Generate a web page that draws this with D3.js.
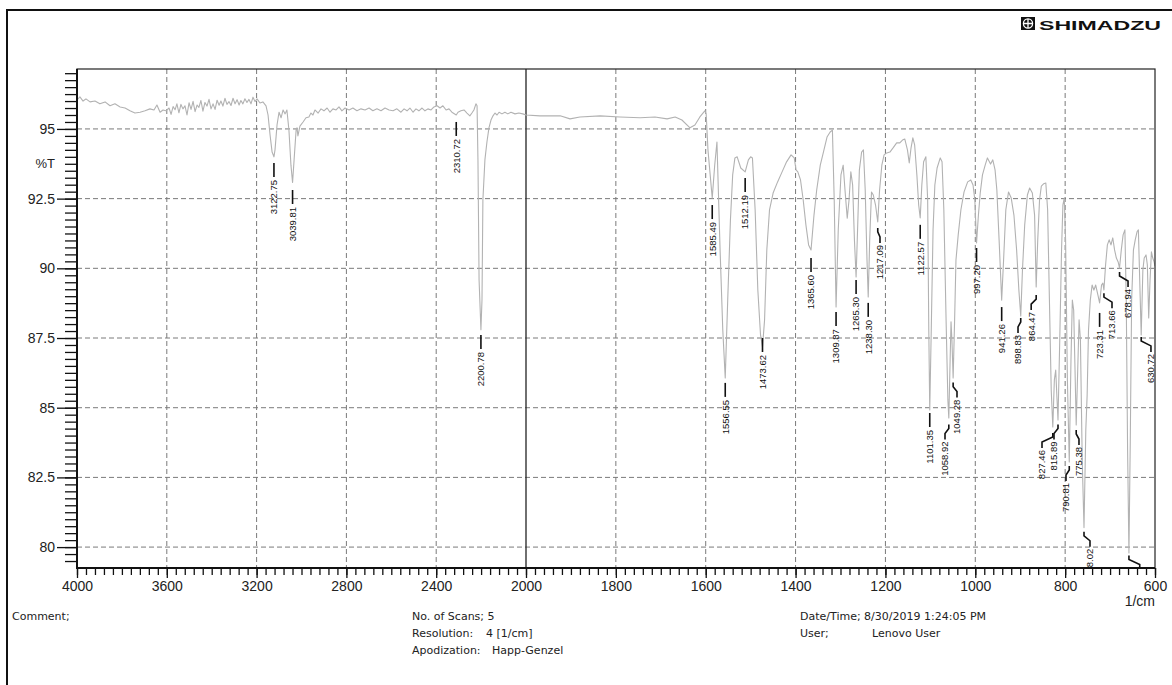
<!DOCTYPE html>
<html><head><meta charset="utf-8">
<script src="https://cdn.jsdelivr.net/npm/d3@7"></script>
<style>
body{margin:0;background:#fff}
svg{display:block}
text{font-family:"Liberation Sans",Arial,sans-serif}
</style>
</head><body>
<svg id="c" width="1172" height="685"></svg>
<script>
// ---------- DATA ----------
// IR spectrum: [wavenumber (1/cm), %T]
const spectrum = [
[4000,96.04],[3987,96.15],[3973,96.0],[3960,96.08],[3942,95.97],[3920,96.0],[3898,95.9],[3875,95.97],[3853,95.83],[3831,95.9],
[3808,95.79],[3786,95.75],[3764,95.65],[3742,95.57],[3719,95.6],[3697,95.65],[3675,95.72],[3657,95.68],[3644,95.86],[3630,95.6],
[3617,95.68],[3604,95.65],[3590,95.75],[3581,95.52],[3572,95.8],[3563,95.69],[3555,95.9],[3546,95.58],[3537,95.88],[3528,95.72],
[3519,95.83],[3510,95.5],[3501,95.94],[3492,95.7],[3483,95.99],[3474,95.62],[3465,95.86],[3457,95.77],[3448,96.02],[3439,95.64],
[3430,95.95],[3421,95.82],[3412,96.06],[3403,95.72],[3394,95.9],[3385,95.7],[3376,96.03],[3367,95.85],[3359,96.0],[3350,95.82],
[3341,96.1],[3332,95.88],[3323,95.98],[3314,95.84],[3305,96.1],[3296,95.9],[3287,96.05],[3278,95.86],[3270,96.02],[3261,95.9],
[3252,96.08],[3243,95.95],[3234,96.06],[3225,95.9],[3216,96.14],[3207,95.98],[3198,96.08],[3185,95.93],[3172,95.97],[3158,95.83],
[3149,95.5],[3140,94.78],[3131,94.17],[3122.75,94.0],[3118,94.25],[3109,95.14],[3100,95.6],[3091,95.4],[3082,95.68],[3073,95.54],
[3065,95.68],[3056,94.96],[3047,93.7],[3039.81,93.08],[3033,93.89],[3024,94.96],[3020,95.04],[3016,94.75],[3007,95.1],[2993,95.25],
[2980,95.4],[2967,95.43],[2958,95.57],[2949,95.5],[2940,95.68],[2926,95.57],[2913,95.72],[2900,95.65],[2886,95.75],[2873,95.6],
[2860,95.72],[2846,95.68],[2833,95.79],[2820,95.65],[2806,95.75],[2788,95.68],[2771,95.75],[2753,95.65],[2735,95.72],[2717,95.68],
[2699,95.75],[2682,95.65],[2664,95.72],[2646,95.65],[2628,95.75],[2610,95.68],[2592,95.65],[2575,95.72],[2557,95.6],[2543,95.72],
[2530,95.65],[2517,95.75],[2503,95.6],[2490,95.72],[2477,95.65],[2463,95.75],[2450,95.65],[2437,95.72],[2423,95.68],[2410,95.79],
[2396,95.83],[2383,95.75],[2370,95.83],[2356,95.68],[2343,95.72],[2330,95.6],[2310.72,95.5],[2303,95.6],[2290,95.65],[2276,95.68],
[2263,95.57],[2250,95.47],[2241,95.57],[2232,95.68],[2223,95.9],[2218,95.83],[2214,93.89],[2209,89.58],[2200.78,87.8],[2196,88.87],
[2192,92.45],[2183,93.89],[2174,94.53],[2165,95.04],[2156,95.32],[2147,95.47],[2138,95.57],[2129,95.5],[2120,95.6],[2107,95.54],
[2094,95.6],[2081,95.54],[2067,95.6],[2049,95.54],[2032,95.57],[2014,95.54],[2000,95.5],
[1969,95.47],[1924,95.47],[1902,95.36],[1880,95.43],[1835,95.47],[1791,95.43],[1746,95.4],[1713,95.43],[1686,95.36],[1668,95.43],
[1653,95.32],[1635,95.04],[1624,95.14],[1613,95.43],[1602,95.65],[1599,95.54],[1595,94.25],[1585.49,92.52],[1580,93.7],[1575,94.53],
[1568,90.66],[1562,87.79],[1556.55,86.07],[1551,88.87],[1545,91.73],[1540,93.35],[1535,93.96],[1530,94.0],[1522,93.6],[1512.19,93.46],
[1505,93.89],[1500,94.0],[1496,93.96],[1490,92.1],[1484,89.22],[1478,87.61],[1473.62,87.18],[1469,88.15],[1464,90.66],[1458,92.1],
[1450,92.7],[1440,93.1],[1430,93.46],[1420,93.82],[1410,94.07],[1403,93.96],[1399,93.53],[1395,93.46],[1389,93.17],[1383,92.45],
[1377,91.56],[1371,90.84],[1365.6,90.66],[1359,91.91],[1353,92.81],[1345,93.7],[1338,94.17],[1330,94.71],[1323,94.89],[1318,94.96],
[1314,92.45],[1309.87,88.61],[1305,91.38],[1299,93.35],[1294,93.7],[1290,92.81],[1285,91.8],[1281,92.45],[1277,93.46],[1273,92.99],
[1269,91.02],[1265.3,89.69],[1262,91.38],[1258,93.53],[1253,94.17],[1249,94.25],[1245,92.81],[1241,90.3],[1238.3,88.97],[1235,91.02],
[1231,92.74],[1227,92.63],[1222,92.27],[1217.09,91.66],[1213,92.81],[1208,93.7],[1203,94.07],[1197,94.14],[1190,94.17],[1183,94.32],
[1175,94.5],[1168,94.5],[1162,94.6],[1157,94.64],[1151,94.25],[1147,93.78],[1143,94.32],[1139,94.68],[1135,94.43],[1130,93.35],
[1126,92.27],[1122.57,91.81],[1119,92.99],[1115,93.82],[1110,94.0],[1106,92.45],[1103.5,87.79],[1101.35,84.92],[1098,87.79],[1094,91.38],
[1090,92.99],[1085,93.6],[1078,93.96],[1074,93.82],[1070,92.1],[1065,88.15],[1061,85.28],[1058.92,84.63],[1056,86.71],[1054,88.08],
[1052,87.43],[1049.28,86.07],[1046,88.15],[1043,90.3],[1038,91.2],[1032,92.1],[1025,92.74],[1017,93.1],[1010,93.17],[1005,92.99],
[1001,92.45],[997.2,90.91],[993,91.91],[989,92.7],[984,93.35],[978,93.7],[973,93.96],[966,93.74],[961,93.89],[956,93.53],
[952,92.81],[947,91.02],[941.26,88.86],[937,90.3],[932,92.1],[926,92.74],[920,92.52],[914,91.91],[908,90.66],[903,89.22],
[898.83,88.29],[895,89.94],[890,91.56],[884,92.63],[879,92.88],[873,92.7],[868,91.91],[864.47,89.33],[861,91.02],[857,92.45],
[853,92.95],[848,93.03],[843,93.06],[839,92.1],[835,88.86],[831,85.64],[827.46,84.31],[824,86.0],[821,86.35],[818,85.28],
[815.89,84.56],[812,87.43],[808,90.66],[805,92.27],[802,92.52],[799,91.02],[795,86.0],[790.81,83.05],[787,86.71],[784,88.86],
[781,88.5],[778,86.35],[775.38,84.38],[772,86.35],[769,88.15],[766,87.43],[762,83.12],[758.02,80.7],[754,84.2],[751,85.46],
[748,87.79],[744,88.86],[740,89.4],[736,89.22],[732,89.4],[727,89.04],[723.31,88.76],[719,89.4],[716,89.47],[713.66,89.22],
[710,90.12],[706,90.84],[702,91.02],[698,90.84],[694,91.09],[690,90.66],[686,90.37],[682,90.23],[678.94,90.01],[675,90.66],
[671,91.2],[667,91.38],[664,88.86],[661,83.48],[658,79.79],[655,83.84],[652,88.86],[648,90.66],[644,91.02],[640,91.31],
[637,91.38],[634,89.58],[630.72,87.61],[627,89.94],[624,90.37],[620,90.48],[617,90.12],[614,88.22],[611,89.58],[608,90.59],
[605,90.37],[602,90.23],[600,90.08]
];

// Peak annotations
const peakLabels  = ["3122.75","3039.81","2310.72","2200.78","1585.49","1556.55","1512.19","1473.62","1365.60","1309.87","1265.30","1238.30","1217.09","1122.57","1101.35","1058.92","1049.28","997.20","941.26","898.83","864.47","827.46","815.89","790.81","775.38","758.02","723.31","713.66","678.94","630.72",""];
const peakWn      = [3122.75,3039.81,2310.72,2200.78,1585.49,1556.55,1512.19,1473.62,1365.60,1309.87,1265.30,1238.30,1217.09,1122.57,1101.35,1058.92,1049.28,997.20,941.26,898.83,864.47,827.46,815.89,790.81,775.38,758.02,723.31,713.66,678.94,630.72,658];
const peakLeaderT = [93.78,92.81,95.25,87.61,92.27,85.89,93.24,87.5,90.37,88.43,89.58,88.76,91.45,91.56,84.81,84.4,85.9,90.73,88.61,88.22,89.04,84.09,84.4,82.91,84.2,80.55,88.4,89.11,89.87,87.54,79.7];
const peakTextWn  = [3122.75,3039.81,2310.72,2200.78,1585.49,1556.55,1512.19,1473.62,1365.60,1309.87,1265.30,1238.30,1212.1,1122.57,1101.35,1067.4,1040.7,997.20,941.26,904.9,875.6,851.5,824.8,798.1,769.2,744.7,722.5,695.7,660,609,634];

const xTickValues = [4000,3600,3200,2800,2400,2000,1800,1600,1400,1200,1000,800,600];
const yTickValues = [80,82.5,85,87.5,90,92.5,95];
const yTickLabels = ["80","82.5","85","87.5","90","92.5","95"];
const xGridValues = [3600,3200,2800,2400,1800,1600,1400,1200,1000,800];

const infoLeft  = ["No. of Scans; 5","Resolution:","Apodization:"];
const infoLeftV = ["","4 [1/cm]","Happ-Genzel"];
const infoRight = ["Date/Time; 8/30/2019 1:24:05 PM","User;"];
const infoRightV= ["","Lenovo User"];

// ---------- CHART ----------
const svg = d3.select("#c");
const L=77, R=1155, T=69, B=568;
const x = d3.scaleLinear().domain([4000,2000,600]).range([L,526,R]);
const y = d3.scaleLinear().domain([79.25,97.15]).range([B,T]);

// page frame
svg.append("rect").attr("x",7).attr("y",10).attr("width",1200).attr("height",700)
  .attr("fill","none").attr("stroke","#111").attr("stroke-width",2);

// logo
const lg = svg.append("g");
lg.append("rect").attr("x",1021).attr("y",17).attr("width",14).attr("height",13).attr("fill","#111");
lg.append("circle").attr("cx",1028).attr("cy",23.5).attr("r",4.6).attr("fill","none").attr("stroke","#fff").attr("stroke-width",1.3);
lg.append("path").attr("d","M1023.4,23.5H1032.6M1028,18.9V28.1").attr("stroke","#fff").attr("stroke-width",1.3);
lg.append("text").attr("x",1039).attr("y",29.8).attr("font-size",13.5).attr("font-weight",900)
  .attr("textLength",122).attr("lengthAdjust","spacingAndGlyphs").attr("fill","#111").text("SHIMADZU");

svg.append("defs").append("clipPath").attr("id","plot")
  .append("rect").attr("x",L).attr("y",T).attr("width",R-L).attr("height",B-T);

// grid
const grid = svg.append("g");
grid.selectAll("line.h").data(yTickValues).join("line")
  .attr("x1",L).attr("x2",R).attr("y1",d=>y(d)).attr("y2",d=>y(d))
  .attr("stroke","#7a7a7a").attr("stroke-width",1).attr("stroke-dasharray","5,3");
grid.selectAll("line.v").data(xGridValues).join("line")
  .attr("x1",d=>x(d)).attr("x2",d=>x(d)).attr("y1",T).attr("y2",B)
  .attr("stroke","#7a7a7a").attr("stroke-width",1).attr("stroke-dasharray","5,3");
grid.append("line").attr("x1",x(2000)).attr("x2",x(2000)).attr("y1",T).attr("y2",B)
  .attr("stroke","#222").attr("stroke-width",1.3);

// spectrum
const plotG = svg.append("g").attr("clip-path","url(#plot)");
plotG.append("path").datum(spectrum)
  .attr("d",d3.line().x(d=>x(d[0])).y(d=>y(d[1])))
  .attr("fill","none").attr("stroke","#b2b2b2").attr("stroke-width",1.1).attr("stroke-linejoin","round");

// peak leaders and labels
peakWn.forEach((wn,i)=>{
  const px=x(wn), tx=x(peakTextWn[i]), py=y(peakLeaderT[i]);
  let d;
  if(Math.abs(tx-px)<1.5) d=`M${px},${py}V${py+14}`;
  else d=`M${px},${py}V${py+4}L${tx},${py+9}V${py+15}`;
  plotG.append("path").attr("d",d).attr("fill","none").attr("stroke","#111").attr("stroke-width",1.6);
  if(peakLabels[i]){
    plotG.append("text").attr("transform",`translate(${tx},${py+17}) rotate(-90)`)
      .attr("text-anchor","end").attr("dy","0.35em").attr("font-size",9.5).attr("fill","#111")
      .text(peakLabels[i]);
  }
});

// axes
const xMinor = d3.range(4000,2000,-40).concat(d3.range(2000,599,-20));
const yMinor = d3.range(79.5,97.15,0.25);
function styleAxis(g){
  g.select(".domain").remove();
  g.selectAll(".tick line").attr("stroke","#111").attr("stroke-width",1.3);
  g.selectAll("text").attr("font-family","'Liberation Sans',Arial,sans-serif").attr("font-size",14).attr("fill","#222");
}
svg.append("g").attr("transform",`translate(0,${B})`)
  .call(d3.axisBottom(x).tickValues(xMinor).tickSize(7).tickFormat("")).call(styleAxis);
svg.append("g").attr("transform",`translate(0,${B})`)
  .call(d3.axisBottom(x).tickValues(xTickValues).tickSize(10).tickPadding(3).tickFormat(d=>d)).call(styleAxis);
svg.append("g").attr("transform",`translate(${L},0)`)
  .call(d3.axisLeft(y).tickValues(yMinor).tickSize(12).tickFormat("")).call(styleAxis);
svg.append("g").attr("transform",`translate(${L},0)`)
  .call(d3.axisLeft(y).tickValues(yTickValues).tickSize(20).tickPadding(2).tickFormat((d,i)=>yTickLabels[i])).call(styleAxis);

// frame
svg.append("rect").attr("x",L).attr("y",T).attr("width",R-L).attr("height",B-T)
  .attr("fill","none").attr("stroke","#222").attr("stroke-width",1.2);
svg.append("path").attr("d",`M${L},${T}V${B}H${R}`).attr("fill","none").attr("stroke","#111").attr("stroke-width",2);

// axis titles
svg.append("text").attr("x",55).attr("y",168).attr("text-anchor","end").attr("font-size",13).attr("fill","#222").text("%T");
svg.append("text").attr("x",R).attr("y",606).attr("text-anchor","end").attr("font-size",14).attr("fill","#222").text("1/cm");

// footer info
const ft = svg.append("g").attr("font-size",11).attr("fill","#222")
  .style("font-family","'DejaVu Sans',Verdana,sans-serif");
ft.append("text").attr("x",12).attr("y",620).style("font-family","'DejaVu Sans',sans-serif").text("Comment;");
infoLeft.forEach((t,i)=>{
  ft.append("text").attr("x",412).attr("y",620+i*17).style("font-family","'DejaVu Sans',sans-serif").text(t);
  if(infoLeftV[i]) ft.append("text").attr("x",i===1?486:492).attr("y",620+i*17).style("font-family","'DejaVu Sans',sans-serif").text(infoLeftV[i]);
});
infoRight.forEach((t,i)=>{
  ft.append("text").attr("x",800).attr("y",620+i*17).style("font-family","'DejaVu Sans',sans-serif").text(t);
  if(infoRightV[i]) ft.append("text").attr("x",872).attr("y",620+i*17).style("font-family","'DejaVu Sans',sans-serif").text(infoRightV[i]);
});
</script>
</body></html>
